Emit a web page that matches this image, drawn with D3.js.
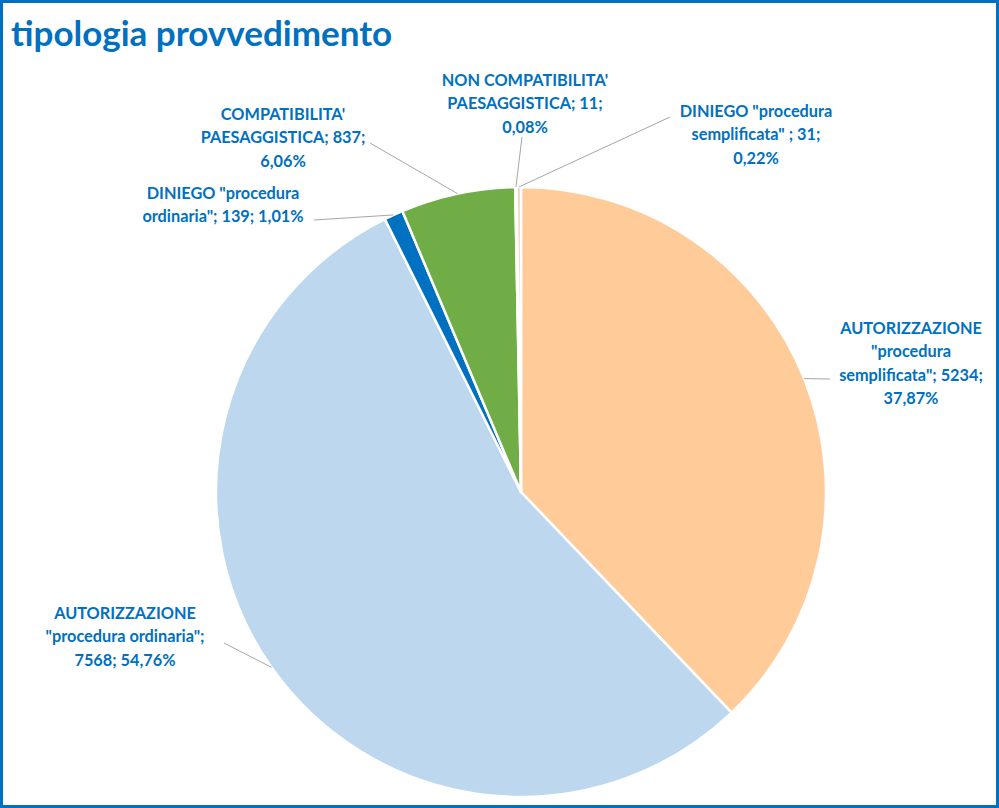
<!DOCTYPE html>
<html>
<head>
<meta charset="utf-8">
<script src="https://cdn.jsdelivr.net/npm/d3@7"></script>
<style>
  body { margin: 0; background: #fff; }
  text { font-family: Lato, "Open Sans", sans-serif; font-weight: bold; }
</style>
</head>
<body>
<script>
// data
let categories = ['AUTORIZZAZIONE "procedura semplificata"', 'AUTORIZZAZIONE "procedura ordinaria"',
    'DINIEGO "procedura ordinaria"', "COMPATIBILITA' PAESAGGISTICA",
    "NON COMPATIBILITA' PAESAGGISTICA", 'DINIEGO "procedura semplificata" '];
let values = [5234, 7568, 139, 837, 11, 31];
let colors = ['#FFCC99', '#BDD7EE', '#0070C0', '#70AD47', '#F4B183', '#F8CBAD'];

// layout of labels: words per line, text centre x, first line baseline, leader anchor
let wordsPerLine = [[1, 1, 2, 1], [1, 2, 2], [2, 3], [1, 2, 1], [2, 2, 1], [2, 3, 1]];
let labelPos = [
    {x: 911, y: 334, ax: 830, ay: 379},
    {x: 125, y: 619, ax: 224, ay: 643},
    {x: 223, y: 199, ax: 314, ay: 220},
    {x: 283, y: 120, ax: 370, ay: 143},
    {x: 525, y: 86, ax: 522, ay: 137},
    {x: 756, y: 117, ax: 670, ay: 117}
];

let width = 999, height = 808,
    cx = 521, cy = 492, radio = 305;

let svg = d3.select("body").append("svg")
    .attr("width", width).attr("height", height);

svg.append("rect")
    .attr("x", 1.5).attr("y", 1.5)
    .attr("width", width - 3).attr("height", height - 3)
    .attr("fill", "#fff").attr("stroke", "#0070C0").attr("stroke-width", 3);

svg.append("text")
    .attr("x", 11).attr("y", 46)
    .attr("fill", "#0070C0")
    .style("font-size", "35px")
    .text("tipologia provvedimento");

let total = d3.sum(values);
let data = categories.map((c, i) => ({name: c, value: values[i], color: colors[i], i: i}));

let pie = d3.pie().sort(null).value(d => d.value);
let path = d3.arc().outerRadius(radio).innerRadius(0);

let g = svg.append("g").attr("transform", "translate(" + cx + "," + cy + ")");
let arcs = pie(data);

g.selectAll(".arc").data(arcs).enter().append("path")
    .attr("class", "arc")
    .attr("d", path)
    .attr("fill", d => d.data.color)
    .attr("stroke", "#fff")
    .attr("stroke-width", 2.5)
    .attr("stroke-linejoin", "round");

let fmt = v => (v / total * 100).toFixed(2).replace(".", ",") + "%";

arcs.forEach(function (d) {
    let i = d.data.i, p = labelPos[i];
    let mid = (d.startAngle + d.endAngle) / 2;
    let px = cx + radio * Math.sin(mid), py = cy - radio * Math.cos(mid);

    svg.append("polyline")
        .attr("points", [[p.ax, p.ay], [px, py]].join(" "))
        .attr("fill", "none")
        .attr("stroke", "#A6A6A6")
        .attr("stroke-width", 1);

    let words = (d.data.name + "; " + d.data.value + "; " + fmt(d.data.value)).split(" ").filter(w => w !== "");
    let lines = [], k = 0;
    wordsPerLine[i].forEach(function (n) {
        lines.push(words.slice(k, k + n).join(" "));
        k += n;
    });
    let t = svg.append("text")
        .attr("text-anchor", "middle")
        .attr("fill", "#0070C0")
        .style("font-size", "16.3px");
    lines.forEach(function (l, j) {
        t.append("tspan").attr("x", p.x).attr("y", p.y + j * 23.3).text(l);
    });
});
</script>
</body>
</html>
